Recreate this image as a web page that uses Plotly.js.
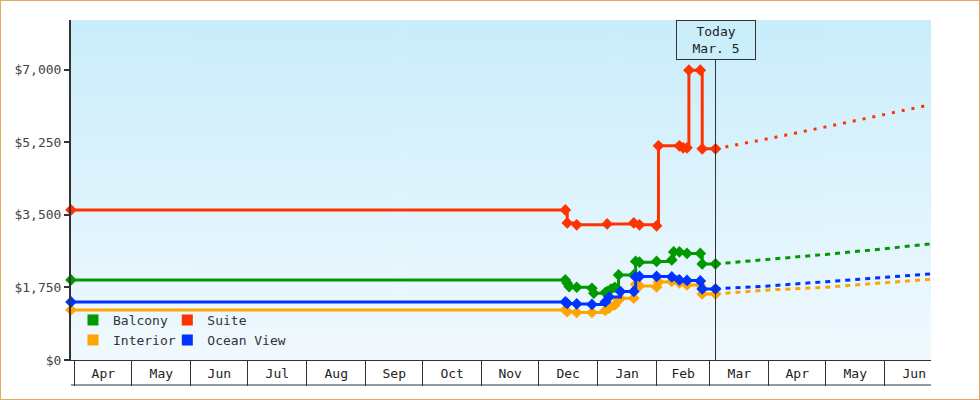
<!DOCTYPE html>
<html><head><meta charset="utf-8">
<script src="https://cdn.plot.ly/plotly-3.0.1.min.js"></script>
<style>
html,body{margin:0;padding:0;background:#fff;}
#wrap{width:978px;height:398px;border:1px solid #e9a862;}
#chart{width:978px;height:398px;}
</style></head><body><div id="wrap"><div id="chart"></div></div>
<script>
const FONT = '"DejaVu Sans Mono", "Liberation Mono", monospace';

const xStart = '2024-03-30 00:00';
const xEnd = '2025-06-25 08:00';
const todayDate = '2025-03-04';
const todayLabel = 'Today<br>Mar. 5';

const yTickVals = [0, 1750, 3500, 5250, 7000];
const yTickText = ['$0', '$1,750', '$3,500', '$5,250', '$7,000'];

const seriesNames = ['Balcony', 'Suite', 'Interior', 'Ocean View'];
const seriesColors = ['#009900', '#ff3300', '#ffa500', '#0033ff'];

// Suite (history)
const suiteDates = ['2024-03-30','2024-12-15','2024-12-16','2024-12-21','2025-01-06','2025-01-20','2025-01-23','2025-02-01','2025-02-02','2025-02-13','2025-02-15','2025-02-17','2025-02-18','2025-02-24','2025-02-25','2025-03-04'];
const suiteValues = [3620,3620,3307,3259,3283,3307,3259,3235,5166,5166,5118,5118,6990,6990,5094,5094];
// Balcony (history)
const balconyDates = ['2024-03-30','2024-12-15','2024-12-16','2024-12-17','2024-12-21','2024-12-29','2024-12-30','2025-01-05','2025-01-06','2025-01-08','2025-01-10','2025-01-12','2025-01-20','2025-01-21','2025-01-23','2025-02-01','2025-02-09','2025-02-10','2025-02-13','2025-02-17','2025-02-24','2025-02-25','2025-03-04'];
const balconyValues = [1931,1931,1852,1770,1755,1731,1610,1625,1649,1707,1755,2052,2052,2378,2360,2378,2414,2607,2607,2571,2571,2317,2317];
// Ocean View (history)
const oceanDates = ['2024-03-30','2024-12-15','2024-12-16','2024-12-21','2024-12-29','2025-01-05','2025-01-07','2025-01-13','2025-01-20','2025-01-21','2025-01-23','2025-02-01','2025-02-09','2025-02-13','2025-02-17','2025-02-24','2025-02-25','2025-03-04'];
const oceanValues = [1400,1400,1364,1352,1340,1400,1521,1650,1654,2004,2016,2016,2004,1931,1919,1907,1714,1714];
// Interior (history)
const interiorDates = ['2024-03-30','2024-12-15','2024-12-16','2024-12-21','2024-12-29','2025-01-05','2025-01-07','2025-01-10','2025-01-12','2025-01-13','2025-01-20','2025-01-21','2025-01-23','2025-02-01','2025-02-02','2025-02-09','2025-02-13','2025-02-17','2025-02-24','2025-02-25','2025-03-04'];
const interiorValues = [1207,1207,1166,1147,1147,1195,1248,1328,1448,1489,1489,1823,1786,1762,1883,1895,1859,1811,1811,1593,1593];

// Projections
const projDates = ['2025-03-04','2025-04-01','2025-05-01','2025-06-01','2025-06-25'];
const suiteProj = [5094,5340,5622,5914,6156];
const balconyProj = [2317,2426,2547,2684,2800];
const oceanProj = [1714,1786,1888,1994,2076];
const interiorProj = [1593,1690,1755,1859,1948];

const hist = [
  {name:'Interior', x:interiorDates, y:interiorValues, p:interiorProj, c:seriesColors[2], dash:'5px,5px'},
  {name:'Balcony', x:balconyDates, y:balconyValues, p:balconyProj, c:seriesColors[0], dash:'5px,5px'},
  {name:'Ocean View', x:oceanDates, y:oceanValues, p:oceanProj, c:seriesColors[3], dash:'5px,5px'},
  {name:'Suite', x:suiteDates, y:suiteValues, p:suiteProj, c:seriesColors[1], dash:'3px,7px'}
];

const traces = [];
hist.forEach(s => {
  traces.push({x:projDates, y:s.p, type:'scatter', mode:'lines', showlegend:false, hoverinfo:'skip',
    line:{color:s.c, width:3, dash:s.dash}});
});
hist.forEach(s => {
  traces.push({x:s.x, y:s.y, type:'scatter', mode:'lines+markers', showlegend:false, cliponaxis:false,
    line:{color:s.c, width:3, shape:'hv'}, marker:{symbol:'diamond', size:9, color:s.c}});
});
// legend entries: one legend box per entry (2 columns x 2 rows)
const legendIds = ['legend', 'legend2', 'legend3', 'legend4'];
seriesNames.forEach((n, i) => {
  traces.push({x:[null], y:[null], type:'scatter', mode:'markers', name:n,
    legend: legendIds[i],
    marker:{symbol:'square', size:11, color:seriesColors[i]}});
});

const cv = document.createElement('canvas'); cv.width = 4; cv.height = 340;
const ctx = cv.getContext('2d');
const g = ctx.createLinearGradient(0,0,0,340);
g.addColorStop(0,'#c9edfb'); g.addColorStop(1,'#f1f9fe');
ctx.fillStyle = g; ctx.fillRect(0,0,4,340);
const bg = cv.toDataURL();

const legendBase = {orientation:'v', xanchor:'left', yanchor:'middle',
  bgcolor:'rgba(0,0,0,0)', borderwidth:0, itemwidth:30,
  font:{family:FONT, size:13, color:'#333'}};
const colX = [0.0023, 0.112];
const rowY = [0.1176, 0.0588];

const layout = {
  width:978, height:398,
  margin:{l:70, r:48, t:19, b:39, pad:0},
  paper_bgcolor:'#ffffff', plot_bgcolor:'#f1f9fe',
  font:{family:FONT, size:13, color:'#333'},
  hovermode:false,
  xaxis:{type:'date', range:[xStart, xEnd], showgrid:false, zeroline:false,
    showline:true, linecolor:'#333', linewidth:1, mirror:false,
    ticks:'outside', ticklen:25, tickwidth:1, tickcolor:'#333',
    dtick:'M1', tick0:'2024-04-01', tickformat:'%b', ticklabelmode:'period',
    ticklabelstandoff:-24, tickfont:{family:FONT, size:13, color:'#222'}},
  yaxis:{range:[0, 8200], tickmode:'array', tickvals:yTickVals, ticktext:yTickText,
    showgrid:false, zeroline:false, showline:true, linecolor:'#333', linewidth:2,
    ticks:'outside', ticklen:5, tickwidth:2, tickcolor:'#333',
    tickfont:{family:FONT, size:13, color:'#444'}},
  legend:Object.assign({}, legendBase, {x:colX[0], y:rowY[0]}),
  legend2:Object.assign({}, legendBase, {x:colX[1], y:rowY[0]}),
  legend3:Object.assign({}, legendBase, {x:colX[0], y:rowY[1]}),
  legend4:Object.assign({}, legendBase, {x:colX[1], y:rowY[1]}),
  images:[{source:bg, xref:'paper', yref:'paper', x:0, y:1, sizex:1, sizey:1, sizing:'stretch', layer:'below'}],
  shapes:[
    {type:'line', xref:'x', yref:'paper', x0:todayDate, x1:todayDate, y0:0, y1:1, line:{color:'#333', width:1}},
    {type:'line', xref:'paper', yref:'paper', x0:0, x1:1, y0:-25/340, y1:-25/340, line:{color:'#333', width:1}}
  ],
  annotations:[{xref:'x', yref:'paper', x:todayDate, y:1, xanchor:'center', yanchor:'top',
    text:todayLabel, showarrow:false, bordercolor:'#333', borderwidth:1, borderpad:3,
    bgcolor:'#cbeefb', width:72, font:{family:FONT, size:13, color:'#222'}}]
};

Plotly.newPlot('chart', traces, layout, {displayModeBar:false, staticPlot:true});
</script></body></html>
